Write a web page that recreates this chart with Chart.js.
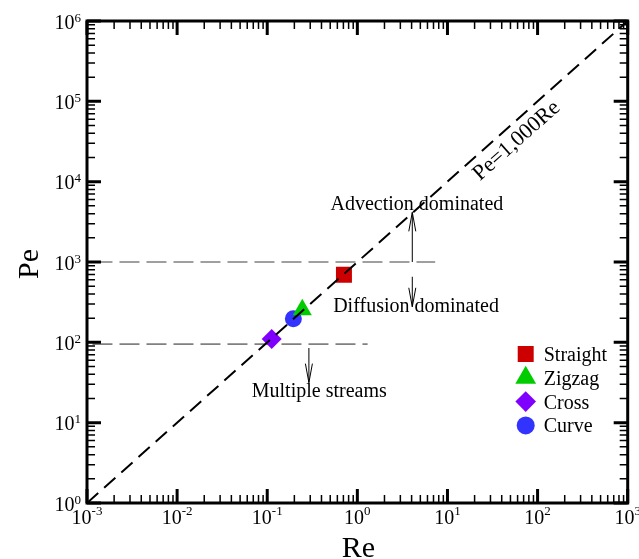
<!DOCTYPE html>
<html><head><meta charset="utf-8">
<script src="https://cdn.jsdelivr.net/npm/chart.js@4/dist/chart.umd.min.js"></script>
<style>html,body{margin:0;padding:0;background:#fff;}#wrap{width:639px;height:559px;}</style>
</head><body><div id="wrap"><canvas id="c" width="639" height="559"></canvas></div>
<script>
// ---- data ----
const categories = ['Straight', 'Zigzag', 'Cross', 'Curve'];
const reValues = [0.71, 0.245, 0.112, 0.195];
const peValues = [695, 254, 110, 196];
const xExponents = ['-3', '-2', '-1', '0', '1', '2', '3'];
const yExponents = ['0', '1', '2', '3', '4', '5', '6'];
const refLineRe = [1e-3, 1e3];
const refLinePe = [1, 1e6];
const refLineLabel = 'Pe=1,000Re';
const advLineRe = [1.15e-3, 7.3];
const advLinePe = [1000, 1000];
const streamLineRe = [1.15e-3, 1.3];
const streamLinePe = [95, 95];
const arrowRe = [4.07, 4.07, 0.29];
const arrowFromPe = [1000, 655, 85];
const arrowToPe = [4150, 277, 31.5];
const noteTexts = ['Advection dominated', 'Diffusion dominated', 'Multiple streams'];
const noteRe = [4.58, 4.48, 0.378];
const notePe = [5320, 285, 25.1];
const refLabelRe = 56.9;
const refLabelPe = 33400;

// ---- styles ----
const markerColors = ['#cc0000', '#00cc00', '#8000ff', '#3333ff'];
const markerStyles = ['rect', 'triangle', 'rectRot', 'circle'];
const markerRadii = [11.3, 11, 10, 8.5];
const legendRadii = [11.3, 12, 10.3, 9];
const SERIF = '"Liberation Serif", "Times New Roman", serif';

const pts = (xs, ys) => xs.map((x, i) => ({x: x, y: ys[i]}));

const datasets = [
  {type: 'line', data: pts(refLineRe, refLinePe), borderColor: '#000', borderWidth: 2,
   borderDash: [15, 8], pointRadius: 0, fill: false, tension: 0},
];
categories.forEach((c, i) => {
  datasets.push({type: 'scatter', label: c, data: [{x: reValues[i], y: peValues[i]}],
    pointStyle: markerStyles[i], pointRadius: markerRadii[i], pointHoverRadius: markerRadii[i],
    backgroundColor: markerColors[i], borderColor: markerColors[i], borderWidth: 0});
});
datasets.push({type: 'line', data: pts(advLineRe, advLinePe), borderColor: '#808080', borderWidth: 1.6,
  borderDash: [20, 7], pointRadius: 0, fill: false});
datasets.push({type: 'line', data: pts(streamLineRe, streamLinePe), borderColor: '#808080', borderWidth: 1.6,
  borderDash: [20, 7], pointRadius: 0, fill: false});

const decorPlugin = {
  id: 'decor',
  afterDraw(chart) {
    const ctx = chart.ctx, ca = chart.chartArea;
    const xs = chart.scales.x, ys = chart.scales.y;
    ctx.save();
    // ticks (inward, all four sides)
    ctx.strokeStyle = '#000';
    const xMin = Math.round(Math.log10(xs.min)), xMax = Math.round(Math.log10(xs.max));
    for (let e = xMin; e <= xMax; e++) {
      for (let m = 1; m <= 9; m++) {
        const v = m * Math.pow(10, e);
        if (v > xs.max * 1.0001) break;
        const px = xs.getPixelForValue(v);
        const major = m === 1;
        const len = major ? 14 : 8;
        ctx.lineWidth = major ? 3 : 1.5;
        ctx.beginPath();
        ctx.moveTo(px, ca.bottom); ctx.lineTo(px, ca.bottom - len);
        ctx.moveTo(px, ca.top); ctx.lineTo(px, ca.top + len);
        ctx.stroke();
      }
    }
    const yMin = Math.round(Math.log10(ys.min)), yMax = Math.round(Math.log10(ys.max));
    for (let e = yMin; e <= yMax; e++) {
      for (let m = 1; m <= 9; m++) {
        const v = m * Math.pow(10, e);
        if (v > ys.max * 1.0001) break;
        const py = ys.getPixelForValue(v);
        const major = m === 1;
        const len = major ? 14 : 8;
        ctx.lineWidth = major ? 3 : 1.5;
        ctx.beginPath();
        ctx.moveTo(ca.left, py); ctx.lineTo(ca.left + len, py);
        ctx.moveTo(ca.right, py); ctx.lineTo(ca.right - len, py);
        ctx.stroke();
      }
    }
    // frame
    ctx.lineWidth = 3;
    ctx.strokeRect(ca.left, ca.top, ca.right - ca.left, ca.bottom - ca.top);

    // tick labels
    ctx.fillStyle = '#000';
    ctx.textBaseline = 'alphabetic';
    const bigF = '20px ' + SERIF, smallF = '13px ' + SERIF;
    xExponents.forEach(ex => {
      const px = xs.getPixelForValue(Math.pow(10, Number(ex)));
      ctx.font = bigF; const w1 = ctx.measureText('10').width;
      ctx.font = smallF; const w2 = ctx.measureText(ex).width;
      const x0 = px - (w1 + w2) / 2;
      ctx.textAlign = 'left';
      ctx.font = bigF; ctx.fillText('10', x0, ca.bottom + 21);
      ctx.font = smallF; ctx.fillText(ex, x0 + w1, ca.bottom + 12);
    });
    yExponents.forEach(ex => {
      const py = ys.getPixelForValue(Math.pow(10, Number(ex)));
      ctx.font = bigF; const w1 = ctx.measureText('10').width;
      ctx.font = smallF; const w2 = ctx.measureText(ex).width;
      const xr = ca.left - 6;
      ctx.textAlign = 'left';
      ctx.font = bigF; ctx.fillText('10', xr - w2 - w1, py + 7.5);
      ctx.font = smallF; ctx.fillText(ex, xr - w2, py + 0.5);
    });

    // axis titles
    ctx.font = '30px ' + SERIF;
    ctx.textAlign = 'center';
    ctx.fillText('Re', (ca.left + ca.right) / 2 + 1, ca.bottom + 54);
    ctx.save();
    ctx.translate(38, (ca.top + ca.bottom) / 2 + 2);
    ctx.rotate(-Math.PI / 2);
    ctx.fillText('Pe', 0, 0);
    ctx.restore();

    // arrows
    ctx.strokeStyle = '#000';
    ctx.lineWidth = 1;
    arrowRe.forEach((r, i) => {
      const x = xs.getPixelForValue(r);
      const y1 = ys.getPixelForValue(arrowFromPe[i]);
      const y2 = ys.getPixelForValue(arrowToPe[i]);
      const dir = y2 < y1 ? 1 : -1;
      ctx.beginPath();
      ctx.moveTo(x, y1); ctx.lineTo(x, y2);
      ctx.moveTo(x - 3.5, y2 + dir * 19); ctx.lineTo(x, y2); ctx.lineTo(x + 3.5, y2 + dir * 19);
      ctx.stroke();
    });

    // annotation texts
    ctx.fillStyle = '#000';
    ctx.font = '20px ' + SERIF;
    ctx.textAlign = 'center';
    noteTexts.forEach((t, i) => {
      ctx.fillText(t, xs.getPixelForValue(noteRe[i]), ys.getPixelForValue(notePe[i]) + 6.5);
    });

    // rotated reference line label
    const ax = xs.getPixelForValue(refLineRe[0]), ay = ys.getPixelForValue(refLinePe[0]);
    const bx = xs.getPixelForValue(refLineRe[1]), by = ys.getPixelForValue(refLinePe[1]);
    const ang = Math.atan2(by - ay, bx - ax);
    ctx.save();
    ctx.translate(xs.getPixelForValue(refLabelRe), ys.getPixelForValue(refLabelPe));
    ctx.rotate(ang);
    ctx.font = '22px ' + SERIF;
    ctx.textAlign = 'center';
    ctx.fillText(refLineLabel, 0, 7.5);
    ctx.restore();

    // legend
    const lx = ca.right - 102, ltx = ca.right - 84;
    let ly = ca.top + 333;
    categories.forEach((c, i) => {
      ctx.save();
      ctx.fillStyle = markerColors[i];
      ctx.strokeStyle = markerColors[i];
      ctx.lineWidth = 0.01;
      Chart.helpers.drawPoint(ctx, {pointStyle: markerStyles[i], radius: legendRadii[i], borderWidth: 0.01, rotation: 0}, lx, ly);
      ctx.restore();
      ctx.fillStyle = '#000';
      ctx.font = '20px ' + SERIF;
      ctx.textAlign = 'left';
      ctx.fillText(c, ltx, ly + 7);
      ly += 23.8;
    });
    ctx.restore();
  }
};

new Chart(document.getElementById('c'), {
  data: {datasets: datasets},
  options: {
    responsive: false,
    devicePixelRatio: 1,
    animation: false,
    layout: {padding: {left: 87, top: 21, right: 10, bottom: 56}},
    plugins: {legend: {display: false}, tooltip: {enabled: false}},
    scales: {
      x: {type: 'logarithmic', min: 1e-3, max: 1e3, display: false},
      y: {type: 'logarithmic', min: 1, max: 1e6, display: false}
    }
  },
  plugins: [decorPlugin]
});
</script></body></html>
